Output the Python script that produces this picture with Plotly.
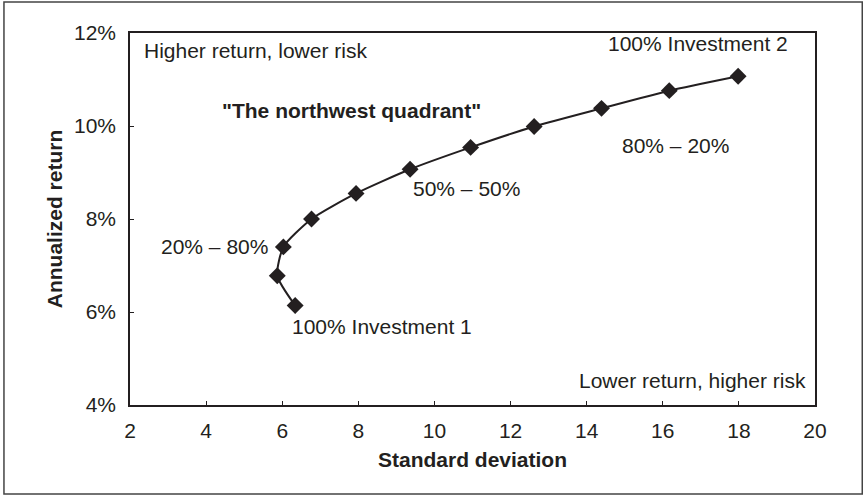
import plotly.graph_objects as go

# portfolio mixes from 100% Investment 1 to 100% Investment 2, in 10% steps
std_dev = [6.34, 5.87, 6.03, 6.77, 7.94, 9.36, 10.95, 12.62, 14.39, 16.17, 17.98]
annual_return = [6.14, 6.78, 7.40, 8.00, 8.55, 9.07, 9.54, 9.99, 10.38, 10.76, 11.07]

x_ticks = [2, 4, 6, 8, 10, 12, 14, 16, 18, 20]
y_ticks = [4, 6, 8, 10, 12]
y_labels = [f"{v}%" for v in y_ticks]

# (text, x, y, xanchor, bold)
notes = [
    ("Higher return, lower risk", 2.32, 11.63, "left", False),
    ('"The northwest quadrant"', 7.81, 10.34, "center", True),
    ("100% Investment 2", 19.34, 11.78, "right", False),
    ("80% \u2013 20%", 14.87, 9.59, "left", False),
    ("50% \u2013 50%", 9.38, 8.65, "left", False),
    ("20% \u2013 80%", 5.68, 7.40, "right", False),
    ("100% Investment 1", 6.20, 5.68, "left", False),
    ("Lower return, higher risk", 19.81, 4.52, "right", False),
]

INK = "#231f20"
FONT = "Liberation Sans, Arial, sans-serif"
SIZE = 21

fig = go.Figure(go.Scatter(
    x=std_dev, y=annual_return, mode="lines+markers",
    line={"color": INK, "width": 2, "shape": "spline", "smoothing": 0.6},
    marker={"symbol": "diamond", "size": 13, "color": INK},
    showlegend=False, hoverinfo="skip"))

for text, x, y, anchor, bold in notes:
    fig.add_annotation(
        x=x, y=y, text=f"<b>{text}</b>" if bold else text, showarrow=False,
        xanchor=anchor, yanchor="middle",
        font={"size": SIZE, "color": INK, "family": FONT})

# outer frame round the whole figure
fig.add_shape(type="rect", xref="paper", yref="paper",
              x0=-0.184, x1=1.069, y0=-0.239, y1=1.083,
              line={"color": "#444444", "width": 1.5})

axis = dict(showgrid=False, zeroline=False, showline=True, linecolor=INK,
            linewidth=1.5, mirror=True, ticks="inside", ticklen=4,
            tickcolor=INK, tickfont={"size": SIZE, "color": INK, "family": FONT})

fig.update_xaxes(range=[2, 20], tickvals=x_ticks, ticklabelstandoff=6,
                 title={"text": "<b>Standard deviation</b>", "standoff": 11,
                        "font": {"size": SIZE, "color": INK, "family": FONT}},
                 **axis)
fig.update_yaxes(range=[4, 12], tickvals=y_ticks, ticktext=y_labels,
                 ticklabelstandoff=8,
                 title={"text": "<b>Annualized return</b>", "standoff": 6,
                        "font": {"size": SIZE, "color": INK, "family": FONT}},
                 **axis)

fig.update_layout(
    width=863, height=496, paper_bgcolor="white", plot_bgcolor="white",
    margin={"l": 130, "r": 48, "t": 33, "b": 91},
    font={"family": FONT, "color": INK})

fig.write_html("out.html", config={"displayModeBar": False},
               post_script="document.body.style.margin = '0';")
